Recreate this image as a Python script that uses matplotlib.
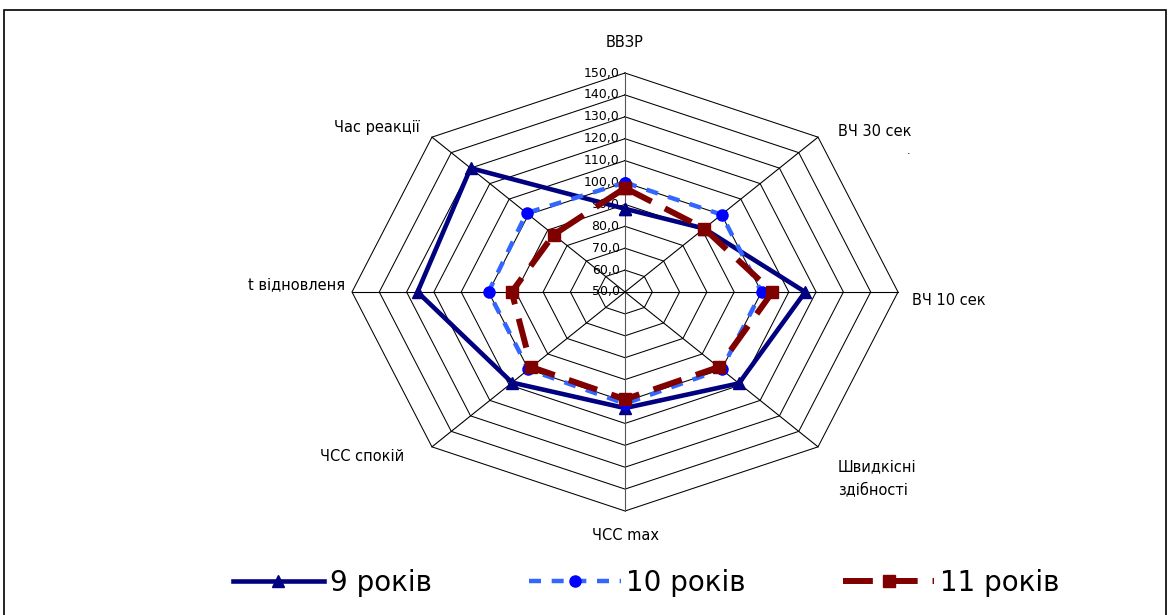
import numpy as np
import matplotlib
matplotlib.use("Agg")
import matplotlib.pyplot as plt
from matplotlib.patches import Rectangle

plt.rcParams['font.family'] = ['DejaVu Sans']

# ---------- Data ----------
categories = ["ВВЗР", "ВЧ 30 сек", "ВЧ 10 сек", "Швидкісні\nздібності",
              "ЧСС max", "ЧСС спокій", "t відновленя", "Час реакції"]
years_9 = [88, 91, 116, 109, 103, 108.5, 126, 130]
years_10 = [100, 100, 100, 100, 101, 100, 100, 101]
years_11 = [97.5, 91, 104, 98.5, 99, 98.5, 91.5, 87]
ticks = [50, 60, 70, 80, 90, 100, 110, 120, 130, 140, 150]
series_names = ["9 років", "10 років", "11 років"]

r_min, r_max = 50, 150
n = len(categories)
angles = np.pi / 2 - np.arange(n) * 2 * np.pi / n


def to_xy(values):
    r = np.array(values, dtype=float) - r_min
    x = r * np.cos(angles)
    y = r * np.sin(angles)
    return np.append(x, x[0]), np.append(y, y[0])


# ---------- Figure ----------
fig = plt.figure(figsize=(11.75, 6.15), dpi=100)
ax = fig.add_axes([352 / 1175, 104 / 615, 546 / 1175, 438 / 615])
ax.set_xlim(-100, 100)
ax.set_ylim(-100, 100)
ax.axis("off")

# grid octagons
for t in ticks[1:]:
    gx, gy = to_xy([t] * n)
    ax.plot(gx, gy, color="black", lw=0.75, zorder=1, clip_on=False)
# spokes
ox, oy = to_xy([r_max] * n)
for i in range(n):
    c = "#555555" if i in (0, 4) else "black"
    ax.plot([0, ox[i]], [0, oy[i]], color=c, lw=0.8, zorder=1, clip_on=False)

# tick labels
for t in ticks:
    ax.text(-2, t - r_min, f"{t:.1f}".replace(".", ","), ha="right", va="center",
            fontsize=9, color="black", zorder=2)

# ---------- Series ----------
x9, y9 = to_xy(years_9)
x10, y10 = to_xy(years_10)
x11, y11 = to_xy(years_11)
ax.plot(x9, y9, color="#000080", lw=3.3, marker="^", ms=8, label=series_names[0],
        zorder=3, clip_on=False)
ax.plot(x10, y10, color="#3366FF", lw=3.2, dashes=(2.7, 2.4), marker="o", ms=8,
        mfc="#0000FF", mec="#0000FF", label=series_names[1], zorder=4, clip_on=False)
ax.plot(x11, y11, color="#800000", lw=4.3, dashes=(5, 2.5), marker="s", ms=8,
        label=series_names[2], zorder=5, clip_on=False)

# ---------- Category labels ----------
label_pos = [(0, 114, "center"), (78, 73.5, "left"), (105, -3.7, "left"),
             (78, -85, "left"), (0, -111, "center"), (-81, -75, "right"),
             (-102.6, 3.2, "right"), (-75, 75, "right")]
for cat, (lx, ly, ha) in zip(categories, label_pos):
    ax.text(lx, ly, cat, ha=ha, va="center", fontsize=10.5, color="black",
            linespacing=1.6)
ax.text(104, 64.5, ".", ha="center", va="center", fontsize=8)

# ---------- Legend ----------
fig.legend(loc="center", bbox_to_anchor=(646 / 1175, 1 - 583 / 615), ncol=3,
           frameon=False, fontsize=20, handlelength=3.3, columnspacing=3.5,
           handletextpad=0.2)

# outer frame
fig.add_artist(Rectangle((4 / 1175, -0.01), 1162 / 1175, 1 - 10 / 615 + 0.01,
                         transform=fig.transFigure, fill=False, ec="black", lw=1.2))

fig.savefig("out.png", dpi=100)
